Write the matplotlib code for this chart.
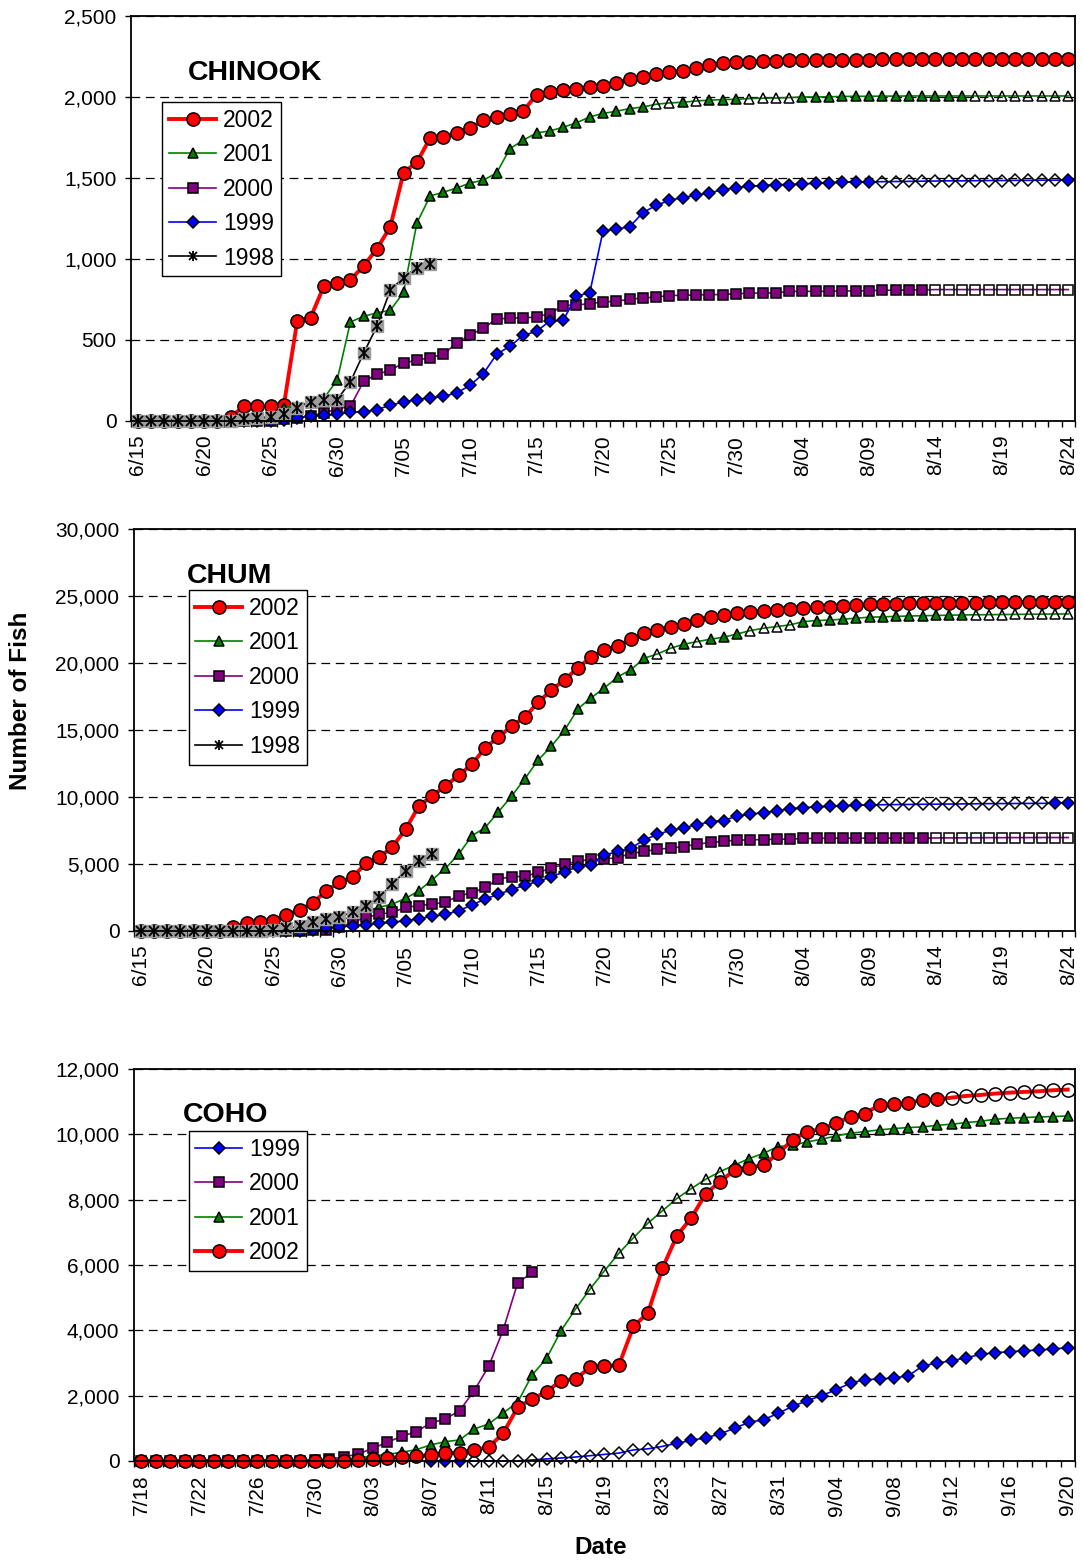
import numpy as np
import pandas as pd
import matplotlib
matplotlib.use('Agg')
import matplotlib.pyplot as plt
from matplotlib.lines import Line2D
from matplotlib.ticker import FixedLocator, FuncFormatter

plt.rcParams['font.family'] = ['Liberation Sans', 'DejaVu Sans']

# ---------------- CHINOOK (6/15 - 8/24) ----------------
chinook_start = '2002-06-15'
chinook_end = '2002-08-24'
chinook_2002 = [0, 0, 0, 0, 0, 0, 0, 25, 91, 91, 91, 100, 617, 637, 831, 852, 872, 957, 1064, 1198,
                1533, 1597, 1747, 1753, 1778, 1807, 1856, 1877, 1893, 1912, 2015, 2029, 2041, 2049, 2062,
                2070, 2087, 2110, 2126, 2142, 2153, 2160, 2180, 2200, 2208, 2214, 2218, 2222, 2224, 2226,
                2228, 2229, 2230, 2230, 2231, 2231, 2232, 2232, 2232, 2233, 2233, 2233, 2234, 2234, 2234,
                2234, 2235, 2235, 2235, 2235, 2235]
chinook_2001 = [0, 0, 0, 0, 0, 0, 0, 0, 5, 10, 20, 83, 95, 115, 140, 251, 611, 646, 667, 683,
                794, 1222, 1389, 1412, 1438, 1469, 1486, 1531, 1681, 1733, 1778, 1790, 1813, 1840, 1877,
                1898, 1912, 1928, 1938, 1955, 1963, 1967, 1975, 1980, 1984, 1985, 1990, 1992, 1993, 1996,
                2000, 2000, 2001, 2003, 2004, 2004, 2005, 2005, 2006, 2006, 2006, 2006, 2006, 2006, 2006,
                2006, 2006, 2006, 2006, 2006, 2006]
chinook_2000 = [0, 0, 0, 0, 0, 0, 0, 0, 0, 0, 0, 10, 20, 30, 50, 74, 91, 245, 288, 313,
                358, 375, 391, 412, 482, 529, 574, 628, 636, 636, 642, 663, 712, 716, 724,
                735, 739, 751, 759, 765, 774, 776, 778, 780, 780, 786, 788, 790, 790, 800,
                800, 800, 800, 802, 803, 804, 807, 807, 808, 809, 811, 811, 811, 811, 811,
                811, 811, 811, 811, 811, 811]
chinook_1999 = [0, 0, 0, 0, 0, 0, 0, 0, 0, 0, 0, 4, 21, 29, 35, 41, 56, 56, 70, 97,
                117, 132, 144, 152, 173, 220, 292, 412, 461, 529, 553, 617, 621, 772, 790,
                1173, 1185, 1198, 1286, 1331, 1362, 1379, 1393, 1407, 1428, 1440, 1449, 1453, 1459, 1459,
                1463, 1467, 1471, 1473, 1475, 1475, 1477, 1478, 1479, 1480, 1481, 1482, 1482, 1483, 1484,
                1484, 1485, 1485, 1486, 1486, 1486]
chinook_1998 = [0, 0, 0, 0, 0, 0, 0, 0, 15, 21, 25, 45, 83, 117, 132, 132, 241, 420, 585, 807,
                885, 947, 967]

# ---------------- CHUM (6/15 - 8/24) ----------------
chum_2002 = [0, 0, 0, 0, 0, 0, 0, 273, 596, 645, 770, 1191, 1588, 2084, 3002, 3623, 3995, 5062, 5484, 6278,
             7593, 9330, 10074, 10819, 11613, 12432, 13672, 14467, 15285, 15955, 17072, 17970, 18760, 19630, 20450,
             20970, 21270, 21770, 22215, 22460, 22710, 22910, 23210, 23410, 23580, 23710, 23830, 23900, 23960, 24020,
             24080, 24160, 24200, 24250, 24330, 24370, 24400, 24420, 24440, 24460, 24470, 24480, 24490, 24500, 24510,
             24520, 24530, 24540, 24540, 24550, 24550]
chum_2001 = [0, 0, 0, 0, 0, 0, 0, 0, 0, 0, 0, 50, 100, 250, 450, 750, 1100, 1500, 1762, 2010,
             2432, 3002, 3821, 4665, 5732, 7097, 7717, 8883, 10074, 11365, 12754, 13800, 14990, 16580, 17400,
             18140, 18960, 19500, 20350, 20670, 21100, 21400, 21590, 21770, 21920, 22160, 22410, 22590, 22710, 22840,
             23080, 23160, 23200, 23260, 23340, 23410, 23440, 23470, 23500, 23520, 23540, 23560, 23580, 23590, 23600,
             23610, 23620, 23630, 23640, 23650, 23650]
chum_2000 = [0, 0, 0, 0, 0, 0, 0, 0, 0, 0, 0, 0, 0, 50, 100, 270, 645, 1017, 1240, 1390,
             1760, 1886, 2010, 2134, 2630, 2830, 3250, 3870, 4045, 4070, 4370, 4690, 4990, 5190, 5360,
             5360, 5480, 5780, 5930, 6100, 6180, 6300, 6480, 6600, 6700, 6770, 6800, 6820, 6850, 6850,
             6900, 6900, 6920, 6920, 6920, 6920, 6920, 6920, 6920, 6920, 6940, 6945, 6950, 6955, 6960,
             6960, 6965, 6965, 6970, 6970, 6970]
chum_1999 = [0, 0, 0, 0, 0, 0, 0, 0, 0, 0, 0, 0, 0, 50, 200, 300, 400, 470, 570, 670,
             745, 920, 1090, 1240, 1510, 1935, 2380, 2750, 3080, 3420, 3700, 4045, 4420, 4790, 4910,
             5660, 5930, 6180, 6800, 7200, 7520, 7690, 7940, 8140, 8240, 8580, 8710, 8830, 8960, 9130,
             9180, 9280, 9290, 9330, 9380, 9400, 9420, 9430, 9440, 9450, 9460, 9470, 9480, 9490, 9500,
             9505, 9510, 9515, 9520, 9530, 9540]
chum_1998 = [0, 0, 0, 0, 0, 0, 0, 0, 0, 0, 100, 200, 350, 645, 893, 1017, 1440, 1886, 2506, 3499,
             4491, 5236, 5732]

# ---------------- COHO (7/18 - 9/20) ----------------
coho_start = '2002-07-18'
coho_end = '2002-09-20'
coho_2002 = [0, 0, 0, 0, 0, 0, 0, 0, 0, 0, 0, 0, 0, 0, 0, 30, 60, 80, 130, 140,
             184, 236, 254, 337, 420, 846, 1641, 1896, 2120, 2457, 2508, 2864, 2915, 2936, 4118,
             4526, 5892, 6891, 7441, 8185, 8552, 8909, 8980, 9052, 9419, 9827, 10082, 10153, 10336, 10540,
             10632, 10897, 10917, 10968, 11040, 11070, 11121, 11172, 11203, 11244, 11274, 11295, 11315, 11346, 11366]
coho_2001 = [0, 0, 0, 0, 0, 0, 0, 0, 0, 0, 0, 0, 0, 0, 50, 100, 150, 200, 265, 347,
             490, 590, 643, 979, 1131, 1468, 1794, 2630, 3140, 3986, 4648, 5260, 5821, 6361, 6830,
             7278, 7655, 8033, 8338, 8624, 8858, 9060, 9256, 9419, 9623, 9663, 9765, 9847, 9949, 10031,
             10082, 10133, 10173, 10204, 10224, 10275, 10306, 10357, 10397, 10459, 10489, 10510, 10530, 10540, 10561]
coho_2000 = [0, 0, 0, 0, 0, 0, 0, 0, 0, 0, 0, 0, 20, 60, 120, 214, 387, 571, 754, 897,
             1162, 1284, 1539, 2151, 2895, 4006, 5443, 5770]
coho_1999_first = 20   # series starts 8/07
coho_1999 = [0, 0, 0, 0, 0, 0, 0, 30, 61, 90, 120, 160, 200, 240, 337, 370, 445, 540, 630, 710,
             826, 1009, 1182, 1264, 1458, 1672, 1845, 1998, 2181, 2385, 2487, 2508, 2538, 2610, 2915,
             2997, 3068, 3160, 3262, 3313, 3344, 3374, 3394, 3425, 3466]

# days shown with open (unfilled) markers
hollow_2001 = [39, 40, 42, 46, 47, 48, 49] + list(range(63, 71))
hollow_2000 = list(range(60, 71))
hollow_1999_chinook = list(range(56, 70))
hollow_1999_chum = list(range(56, 69))
hollow_coho_2002 = list(range(56, 65))
hollow_coho_2001 = list(range(30, 41))
hollow_coho_1999 = list(range(23, 37))

styles = {
    '2002': dict(color='#FF0000', marker='o', ms=9.5, lw=2.8),
    '2001': dict(color='#008000', marker='^', ms=7.5, lw=1.2),
    '2000': dict(color='#800080', marker='s', ms=6.6, lw=1.2),
    '1999': dict(color='#0000FF', marker='D', ms=5.8, lw=1.2),
}


def plot_year(ax, year, values, start=0, hollow=()):
    x = np.arange(start, start + len(values))
    v = np.array(values, dtype=float)
    if year == '1998':
        ax.plot(x, v, color='black', lw=1.2, clip_on=False)
        ax.plot(x, v, ls='none', marker='s', ms=8, mfc='#9c9c9c', mec='#9c9c9c', clip_on=False)
        ax.plot(x, v, ls='none', marker='x', ms=7, mew=1.3, color='black', clip_on=False)
        ax.plot(x, v, ls='none', marker='|', ms=9, mew=1.3, color='black', clip_on=False)
        return
    s = styles[year]
    is_hollow = np.isin(x, hollow)
    ax.plot(x, v, color=s['color'], lw=s['lw'], clip_on=False)
    ax.plot(x[~is_hollow], v[~is_hollow], ls='none', marker=s['marker'], ms=s['ms'],
            mfc=s['color'], mec='black', mew=1.1, clip_on=False)
    if is_hollow.any():
        ax.plot(x[is_hollow], v[is_hollow], ls='none', marker=s['marker'], ms=s['ms'],
                mfc='none', mec='black', mew=1.1, clip_on=False)


def legend_handle(year):
    if year == '1998':
        return (Line2D([], [], color='black', lw=1.2),
                Line2D([], [], ls='none', marker='x', ms=5.5, mew=1.3, color='black'),
                Line2D([], [], ls='none', marker='|', ms=7, mew=1.3, color='black'))
    s = styles[year]
    return Line2D([], [], color=s['color'], lw=s['lw'], marker=s['marker'], ms=s['ms'],
                  mfc=s['color'], mec='black', mew=1.1)


def setup_axes(ax, dates, ymax, ystep, label_every, title, title_xy, legend_years, legend_xy):
    n = len(dates)
    ax.set_xlim(-0.5, n - 0.5)
    ax.set_ylim(0, ymax)
    ax.set_yticks(np.arange(0, ymax + 1, ystep))
    ax.yaxis.set_major_formatter(FuncFormatter(lambda v, p: f'{int(v):,}'))
    label_pos = np.arange(0, n, label_every)
    ax.xaxis.set_major_locator(FixedLocator(label_pos))
    ax.set_xticklabels([f'{dates[k].month}/{dates[k].day:02d}' for k in label_pos], rotation=90)
    ax.xaxis.set_minor_locator(FixedLocator(np.arange(n + 1) - 0.5))
    ax.tick_params(axis='x', which='major', length=0, pad=10, labelsize=15)
    ax.tick_params(axis='x', which='minor', length=4.5, width=1, direction='out')
    ax.tick_params(axis='y', length=4.5, width=1, direction='out', pad=6, labelsize=15)
    ax.yaxis.grid(True, linestyle=(0, (7, 4.5)), color='black', lw=0.9)
    ax.set_axisbelow(True)
    for sp in ax.spines.values():
        sp.set_linewidth(1.3)
    ax.text(title_xy[0], title_xy[1], title, transform=ax.transAxes, fontsize=20.5,
            fontweight='bold', va='baseline', ha='left')
    leg = ax.legend([legend_handle(y) for y in legend_years], legend_years,
                    loc='upper left', bbox_to_anchor=legend_xy, fontsize=16.5,
                    frameon=True, fancybox=False, framealpha=1, edgecolor='black',
                    handlelength=2.05, handletextpad=0.3, borderpad=0.3,
                    labelspacing=0.5, borderaxespad=0, numpoints=1)
    leg.get_frame().set_linewidth(1.0)
    leg.set_zorder(10)


fig = plt.figure(figsize=(10.83, 15.62), dpi=100)

chinook_dates = pd.date_range(chinook_start, chinook_end)
coho_dates = pd.date_range(coho_start, coho_end)

# CHINOOK
ax1 = fig.add_axes([0.1210, 0.7305, 0.8716, 0.2593])
plot_year(ax1, '2002', chinook_2002)
plot_year(ax1, '2001', chinook_2001, hollow=hollow_2001)
plot_year(ax1, '2000', chinook_2000, hollow=hollow_2000)
plot_year(ax1, '1999', chinook_1999, hollow=hollow_1999_chinook)
plot_year(ax1, '1998', chinook_1998)
setup_axes(ax1, chinook_dates, 2500, 500, 5, 'CHINOOK', (0.060, 0.842),
           ['2002', '2001', '2000', '1999', '1998'], (0.033, 0.788))

# CHUM
ax2 = fig.add_axes([0.1237, 0.4040, 0.8689, 0.2574])
plot_year(ax2, '2002', chum_2002)
plot_year(ax2, '2001', chum_2001, hollow=hollow_2001)
plot_year(ax2, '2000', chum_2000, hollow=hollow_2000)
plot_year(ax2, '1999', chum_1999, hollow=hollow_1999_chum)
plot_year(ax2, '1998', chum_1998)
setup_axes(ax2, chinook_dates, 30000, 5000, 5, 'CHUM', (0.056, 0.866),
           ['2002', '2001', '2000', '1999', '1998'], (0.058, 0.848))

# COHO
ax3 = fig.add_axes([0.1237, 0.0647, 0.8689, 0.2510])
plot_year(ax3, '1999', coho_1999, start=coho_1999_first, hollow=hollow_coho_1999)
plot_year(ax3, '2000', coho_2000)
plot_year(ax3, '2001', coho_2001, hollow=hollow_coho_2001)
plot_year(ax3, '2002', coho_2002, hollow=hollow_coho_2002)
setup_axes(ax3, coho_dates, 12000, 2000, 4, 'COHO', (0.052, 0.865),
           ['1999', '2000', '2001', '2002'], (0.058, 0.842))

fig.text(0.019, 1 - 701 / 1562, 'Number of Fish', rotation=90, ha='center', va='center',
         fontsize=17.5, fontweight='bold')
fig.text(601 / 1083, 1 - 1547 / 1562, 'Date', ha='center', va='center',
         fontsize=17.5, fontweight='bold')

fig.savefig('out.png', dpi=100)
